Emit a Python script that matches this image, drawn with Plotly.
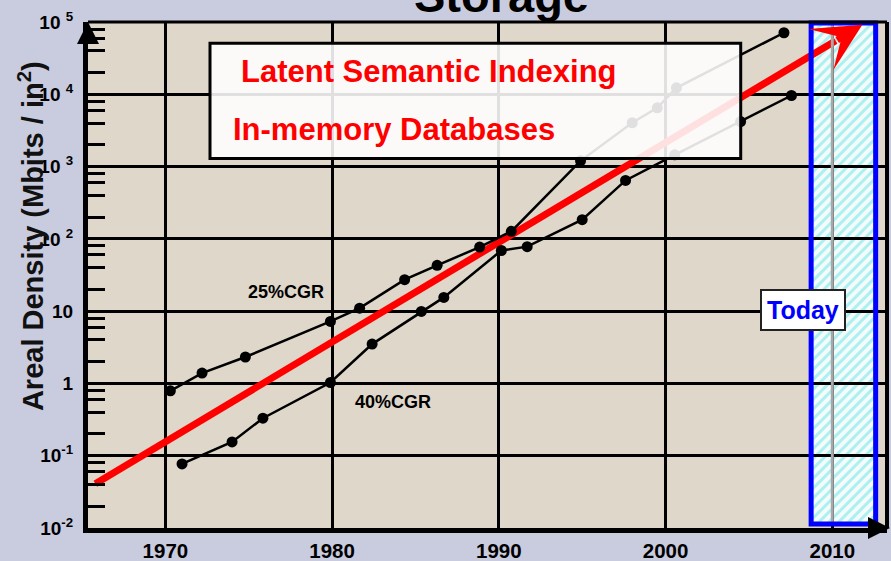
import base64
import numpy as np
import plotly.graph_objects as go

# ---------------- data ----------------
years_a = [1970.3, 1972.2, 1974.8, 1979.9, 1981.65, 1984.35, 1986.3, 1988.85,
           1990.75, 1994.9, 1998.0, 1999.5, 2000.65, 2007.1]
density_a = [0.79, 1.39, 2.32, 7.2, 11.0, 27.2, 43, 77,
             127, 1200, 4040, 6500, 12300, 71000]

years_b = [1971.0, 1974.0, 1975.85, 1979.9, 1982.4, 1985.35, 1986.7, 1990.15,
           1991.7, 1995.0, 1997.6, 2000.55, 2004.5, 2007.55]
density_b = [0.077, 0.155, 0.33, 1.03, 3.5, 9.9, 15.5, 69,
             78, 184, 643, 1455, 4200, 9620]

trend_years = [1965.8, 2011.8]
trend_density = [0.041, 91400]

today_span = [2008.73, 2012.6]
today_year = 2010

x_tickvals = [1970, 1980, 1990, 2000, 2010]
x_ticktext = ["1970", "1980", "1990", "2000", "2010"]
y_tickvals = [0.01, 0.1, 1, 10, 100, 1000, 10000, 100000]
y_ticktext = ["10<sup>-2</sup>", "10<sup>-1</sup>", "1", "10",
              "10 <sup>2</sup>", "10 <sup>3</sup>", "10 <sup>4</sup>", "10 <sup>5</sup>"]
minor_mult = [2, 4, 6, 8]

title_text = "Storage"
y_title = "Areal Density (Mbits / in<sup>2</sup>)"
box_line1 = "Latent Semantic Indexing"
box_line2 = "In-memory Databases"
label_25 = "25%CGR"
label_40 = "40%CGR"
today_text = "Today"

# ---------------- styling ----------------
FONT = "Liberation Sans, Arial, sans-serif"
PAGE_BG = "#C9CBDF"
PLOT_BG = "#DED7CA"

x_range = [1965.36, 2013.28]
y_range = [-2, 5]

fig = go.Figure()

# trend arrow (body as trace, head as annotation)
t0, t1 = trend_years
l0, l1 = np.log10(trend_density[0]), np.log10(trend_density[1])
x_mid = t1 - 1.6
l_mid = l0 + (x_mid - t0) / (t1 - t0) * (l1 - l0)
fig.add_trace(go.Scatter(x=[t0, x_mid], y=[trend_density[0], 10 ** l_mid],
                         mode="lines", line=dict(color="#FF0000", width=7),
                         hoverinfo="skip", showlegend=False))

for xs, ys in [(years_a, density_a), (years_b, density_b)]:
    fig.add_trace(go.Scatter(x=xs, y=ys, mode="lines+markers",
                             line=dict(color="black", width=2.5),
                             marker=dict(color="black", size=11),
                             showlegend=False))

# hatch pattern for the "today" column
svg = ('<svg xmlns="http://www.w3.org/2000/svg" width="65" height="501" '
       'viewBox="0 0 65 501" preserveAspectRatio="none"><defs>'
       '<pattern id="h" width="7" height="7" patternUnits="userSpaceOnUse" '
       'patternTransform="rotate(45)"><rect width="7" height="7" fill="#F3FBFB"/>'
       '<rect width="3" height="7" fill="#AEF0F0"/></pattern></defs>'
       '<rect width="65" height="501" fill="url(#h)"/></svg>')
src = "data:image/svg+xml;base64," + base64.b64encode(svg.encode()).decode()

images = [dict(source=src, xref="x", yref="paper", x=today_span[0], y=0.998,
               sizex=today_span[1] - today_span[0], sizey=0.99,
               xanchor="left", yanchor="top", sizing="stretch", layer="below")]

shapes = [
    dict(type="line", xref="x", yref="paper", x0=today_year, x1=today_year,
         y0=0.008, y1=0.998, line=dict(color="#A8A8A8", width=3), layer="above"),
    dict(type="rect", xref="x", yref="paper", x0=today_span[0], x1=today_span[1],
         y0=0.008, y1=0.998, line=dict(color="#0000FF", width=5), layer="above"),
    dict(type="line", xref="paper", yref="paper", x0=0, x1=1, y0=1, y1=1,
         line=dict(color="black", width=3), layer="above"),
    dict(type="line", xref="paper", yref="paper", x0=1, x1=1, y0=0, y1=1,
         line=dict(color="black", width=4), layer="above"),
    dict(type="rect", xref="paper", yref="paper", x0=0.1527, x1=0.8169,
         y0=0.7302, y1=0.9579, fillcolor="rgba(255,255,255,0.88)",
         line=dict(color="black", width=3), layer="above"),
]

bold = dict(family=FONT, weight="bold")
annotations = [
    dict(x=t1, y=l1, ax=x_mid, ay=l_mid, xref="x", yref="y", axref="x", ayref="y",
         text="", showarrow=True, arrowhead=3, arrowsize=1.15, arrowwidth=7,
         arrowcolor="#FF0000"),
    dict(text=title_text, xref="paper", yref="paper", x=0.517, y=1.0526,
         xanchor="center", yanchor="middle", showarrow=False,
         font=dict(size=47, color="black", **bold)),
    dict(text=y_title, xref="paper", yref="paper", x=-0.0713, y=0.577,
         xanchor="center", yanchor="middle", textangle=-90, showarrow=False,
         font=dict(size=29, color="#111111", **bold)),
    dict(text=box_line1, xref="paper", yref="paper", x=0.189, y=0.902,
         xanchor="left", yanchor="middle", showarrow=False,
         font=dict(size=31, color="#FF0000", **bold)),
    dict(text=box_line2, xref="paper", yref="paper", x=0.1786, y=0.7875,
         xanchor="left", yanchor="middle", showarrow=False,
         font=dict(size=31, color="#FF0000", **bold)),
    dict(text=label_25, xref="x", yref="y", x=1974.81, y=1.259,
         xanchor="left", yanchor="middle", showarrow=False,
         font=dict(size=18, color="black", **bold)),
    dict(text=label_40, xref="x", yref="y", x=1981.23, y=-0.263,
         xanchor="left", yanchor="middle", showarrow=False,
         font=dict(size=18, color="black", **bold)),
    dict(text=today_text, xref="x", yref="y", x=2008.27, y=1.02,
         xanchor="center", yanchor="middle", showarrow=False,
         bgcolor="white", bordercolor="#222222", borderwidth=2, borderpad=5,
         font=dict(size=25, color="#0000FF", **bold)),
    dict(xref="paper", yref="paper", x=0, y=1.0, ax=0, ay=14, text="",
         showarrow=True, arrowhead=2, arrowsize=1.1, arrowwidth=4, arrowcolor="black"),
    dict(xref="paper", yref="paper", x=1.004, y=0, ax=-14, ay=0, text="",
         showarrow=True, arrowhead=2, arrowsize=1.1, arrowwidth=4, arrowcolor="black"),
]

minor_vals = [m * 10 ** e for e in range(-2, 5) for m in minor_mult]

fig.update_layout(
    width=891, height=561,
    margin=dict(l=88, r=4, t=22, b=33, autoexpand=False),
    paper_bgcolor=PAGE_BG, plot_bgcolor=PLOT_BG,
    shapes=shapes, annotations=annotations, images=images,
    showlegend=False,
    xaxis=dict(range=x_range, tickmode="array", tickvals=x_tickvals, ticktext=x_ticktext,
               showgrid=True, gridcolor="black", gridwidth=3, zeroline=False,
               showline=True, linecolor="black", linewidth=5, ticks="", ticklen=0,
               ticklabelstandoff=0, automargin=False,
               tickfont=dict(size=20.5, color="black", **bold)),
    yaxis=dict(type="log", range=y_range, tickmode="array", tickvals=y_tickvals,
               ticktext=y_ticktext, showgrid=True, gridcolor="black", gridwidth=3,
               zeroline=False, showline=True, linecolor="black", linewidth=5,
               ticks="", ticklabelstandoff=6, automargin=False,
               tickfont=dict(size=19, color="black", **bold),
               minor=dict(tickmode="array", tickvals=minor_vals, ticks="inside",
                          ticklen=17, tickwidth=3, tickcolor="black", showgrid=False)),
)

fig.write_html("out.html", config={"displayModeBar": False},
               post_script="document.body.style.margin='0';"
                           "document.body.style.overflow='hidden';")
